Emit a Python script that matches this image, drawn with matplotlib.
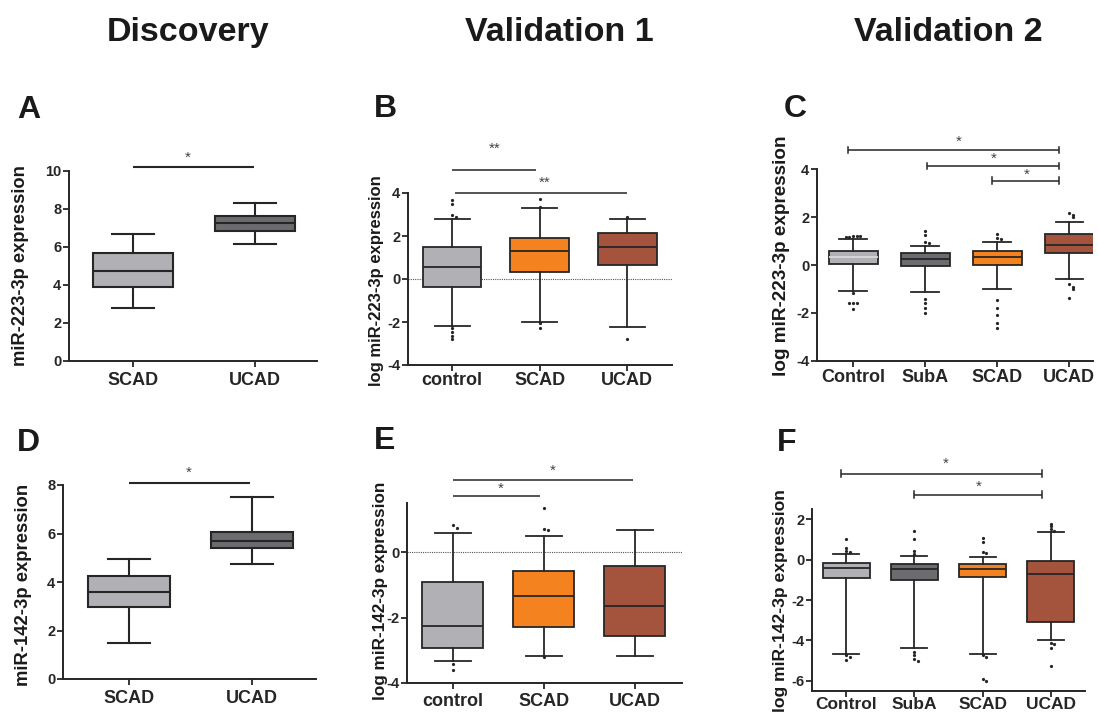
"""miR-223-3p / miR-142-3p expression box plots, three cohorts."""
import matplotlib.pyplot as plt
import numpy as np

plt.rcParams['font.family'] = ['Liberation Sans', 'DejaVu Sans']
plt.rcParams['font.weight'] = 'bold'
plt.rcParams['axes.unicode_minus'] = False

W, H = 1098, 716
INK = '#262626'
LIGHT = '#b0b0b5'
DARK = '#6c6c70'
ORANGE = '#f4821f'
BROWN = '#a4533d'

# ---- panel A: discovery, miR-223-3p
a_cats = ['SCAD', 'UCAD']
a_lo = [2.81, 6.14]
a_q1 = [3.88, 6.86]
a_med = [4.74, 7.25]
a_q3 = [5.70, 7.63]
a_hi = [6.68, 8.33]

# ---- panel B: validation 1, miR-223-3p
b_cats = ['control', 'SCAD', 'UCAD']
b_lo = [-2.17, -1.99, -2.22]
b_q1 = [-0.36, 0.34, 0.65]
b_med = [0.57, 1.32, 1.50]
b_q3 = [1.50, 1.89, 2.13]
b_hi = [2.78, 3.29, 2.78]
b_out = [[3.67, 3.49, 3.0, 2.9, -2.3, -2.48, -2.65, -2.8],
         [3.72, 3.36, -2.05, -2.3],
         [2.9, -2.8]]

# ---- panel C: validation 2, miR-223-3p
c_cats = ['Control', 'SubA', 'SCAD', 'UCAD']
c_lo = [-1.07, -1.11, -1.01, -0.60]
c_q1 = [0.04, -0.04, 0.0, 0.49]
c_med = [0.32, 0.27, 0.35, 0.83]
c_q3 = [0.60, 0.49, 0.60, 1.29]
c_hi = [1.07, 0.80, 0.97, 1.80]
c_out = [[1.21, 1.19, 1.17, 1.2, 1.16, -1.18, -1.57, -1.57, -1.6, -1.85],
         [1.43, 1.25, 0.95, 0.9, -1.42, -1.57, -1.8, -1.99],
         [1.28, 1.11, 1.07, -1.46, -1.8, -2.08, -2.43, -2.64],
         [2.15, 2.1, 1.99, -0.79, -0.9, -1.01, -1.39]]

# ---- panel D: discovery, miR-142-3p
d_cats = ['SCAD', 'UCAD']
d_lo = [1.47, 4.75]
d_q1 = [2.96, 5.40]
d_med = [3.60, 5.71]
d_q3 = [4.26, 6.08]
d_hi = [4.93, 7.52]

# ---- panel E: validation 1, miR-142-3p
e_cats = ['control', 'SCAD', 'UCAD']
e_lo = [-3.33, -3.18, -3.17]
e_q1 = [-2.92, -2.30, -2.56]
e_med = [-2.26, -1.34, -1.65]
e_q3 = [-0.91, -0.58, -0.41]
e_hi = [0.59, 0.48, 0.68]
e_out = [[0.82, 0.75, -3.43, -3.61],
         [1.35, 0.71, 0.68, -3.2],
         []]

# ---- panel F: validation 2, miR-142-3p
f_cats = ['Control', 'SubA', 'SCAD', 'UCAD']
f_lo = [-4.66, -4.35, -4.69, -3.99]
f_q1 = [-0.90, -0.99, -0.86, -3.10]
f_med = [-0.41, -0.48, -0.45, -0.70]
f_q3 = [-0.15, -0.22, -0.22, -0.06]
f_hi = [0.28, 0.17, 0.14, 1.36]
f_out = [[1.0, 0.57, 0.4, 0.35, -4.74, -4.82, -4.99],
         [1.39, 1.0, 0.43, 0.28, -4.56, -4.74, -4.9, -5.0],
         [1.05, 0.86, 0.35, 0.3, -4.74, -4.8, -5.93, -6.03],
         [1.77, 1.65, 1.5, 1.42, -4.12, -4.2, -4.39, -5.26]]


def px_axes(fig, left, top, right, bottom):
    return fig.add_axes([left / W, 1 - bottom / H, (right - left) / W, (bottom - top) / H])


def px_text(fig, x, y, s, **kw):
    fig.text(x / W, 1 - y / H, s, **kw)


def spread(vals, step):
    """Small side-by-side offsets for fliers with nearly equal values."""
    offs, seen = [], []
    for v in vals:
        k = sum(1 for p in seen if abs(p - v) < 0.12)
        seen.append(v)
        offs.append(0.0 if k == 0 else step * ((k + 1) // 2) * (1 if k % 2 else -1))
    return np.array(offs)


def draw_panel(ax, cats, lo, q1, med, q3, hi, colors, width, capw, lw,
               outliers=None, ylim=(0, 1), yticks=(), xlim=None, lab_pad=3,
               lab_size=13, med_colors=None):
    pos = np.arange(1, len(cats) + 1)
    stats = [dict(whislo=lo[i], q1=q1[i], med=med[i], q3=q3[i], whishi=hi[i], fliers=[])
             for i in range(len(cats))]
    bp = ax.bxp(stats, positions=pos, widths=width, capwidths=capw, patch_artist=True,
                showfliers=False,
                boxprops=dict(edgecolor=INK, linewidth=lw),
                whiskerprops=dict(color=INK, linewidth=lw),
                capprops=dict(color=INK, linewidth=lw),
                medianprops=dict(color=INK, linewidth=lw))
    for patch, c in zip(bp['boxes'], colors):
        patch.set_facecolor(c)
    if med_colors:
        for line, c in zip(bp['medians'], med_colors):
            line.set_color(c)
    if outliers:
        for p, pts in zip(pos, outliers):
            if pts:
                ax.plot(p + spread(pts, 0.05), pts, 'o', ms=1.3, color=INK, ls='none',
                        clip_on=False)
    ax.set_xlim(*xlim)
    ax.set_ylim(*ylim)
    ax.set_yticks(yticks)
    ax.set_xticks(pos, cats)
    for s in ('top', 'right'):
        ax.spines[s].set_visible(False)
    for s in ('left', 'bottom'):
        ax.spines[s].set_linewidth(1.4)
        ax.spines[s].set_color(INK)
    ax.tick_params(axis='both', direction='out', length=4, width=1.3, color=INK)
    ax.tick_params(axis='y', labelsize=10.5, labelcolor=INK, pad=1.5)
    ax.tick_params(axis='x', labelsize=lab_size, labelcolor=INK, pad=lab_pad)
    ax.set_facecolor('none')


def sig(ax, x0, x1, y, sx, sy, text, lw=1.1, cap=0.0):
    ax.plot([x0, x1], [y, y], color=INK, lw=lw, clip_on=False, solid_capstyle='butt')
    if cap:
        for x in (x0, x1):
            ax.plot([x, x], [y - cap, y + cap], color=INK, lw=lw, clip_on=False)
    ax.text(sx, sy, text, ha='center', va='center', fontsize=11, fontweight='normal',
            color='#444444', clip_on=False)


fig = plt.figure(figsize=(W / 100, H / 100), dpi=100)

# column titles
for x, t in [(188, 'Discovery'), (559, 'Validation 1'), (948, 'Validation 2')]:
    px_text(fig, x, 41, t, ha='center', va='baseline', fontsize=24.5, color='#1a1a1a')

# panel letters
for x, y, t in [(17, 118, 'A'), (374, 117, 'B'), (784, 117, 'C'),
                (17, 451, 'D'), (374, 449, 'E'), (777, 451, 'F')]:
    px_text(fig, x, y, t, ha='left', va='baseline', fontsize=23, color='#1a1a1a')

# y labels
for x, y, t, fs in [(21, 266, 'miR-223-3p expression', 13.2),
                    (377, 281, 'log miR-223-3p expression', 12),
                    (781, 256, 'log miR-223-3p expression', 13.6),
                    (24, 585, 'miR-142-3p expression', 13.3),
                    (380, 591, 'log miR-142-3p expression', 12.3),
                    (780, 601, 'log miR-142-3p expression', 12.6)]:
    px_text(fig, x, y, t, ha='center', va='center', rotation=90, fontsize=fs, color='#1a1a1a')

# A
ax = px_axes(fig, 69, 171, 317, 361)
draw_panel(ax, a_cats, a_lo, a_q1, a_med, a_q3, a_hi, [LIGHT, DARK], 0.66, 0.35, 1.5,
           ylim=(0, 10), yticks=range(0, 11, 2), xlim=(0.475, 2.51), lab_pad=4)
sig(ax, 1.0, 1.99, 10.2, 1.45, 10.68, '*', lw=1.5)

# B
ax = px_axes(fig, 408, 193, 672, 365)
ax.axhline(0, ls=(0, (1, 1)), color='#555555', lw=0.8, zorder=0)
draw_panel(ax, b_cats, b_lo, b_q1, b_med, b_q3, b_hi, [LIGHT, ORANGE, BROWN], 0.67, 0.4, 1.3,
           outliers=b_out, ylim=(-4, 4), yticks=range(-4, 5, 2), xlim=(0.497, 3.51), lab_pad=1)
sig(ax, 1.0, 1.96, 5.07, 1.49, 6.05, '**')
sig(ax, 1.03, 3.0, 4.0, 2.06, 4.47, '**')

# C
ax = px_axes(fig, 817, 169, 1093, 361)
draw_panel(ax, c_cats, c_lo, c_q1, c_med, c_q3, c_hi, [LIGHT, DARK, ORANGE, BROWN], 0.68, 0.38,
           1.3, outliers=c_out, ylim=(-4, 4), yticks=range(-4, 5, 2), xlim=(0.5, 4.33),
           lab_pad=2, med_colors=['#d8d8d8', INK, INK, INK])
sig(ax, 0.93, 3.86, 4.79, 2.46, 5.14, '*', cap=0.14)
sig(ax, 2.02, 3.86, 4.12, 2.95, 4.44, '*', cap=0.14)
sig(ax, 2.93, 3.86, 3.51, 3.41, 3.75, '*', cap=0.14)

# D
ax = px_axes(fig, 63, 485, 316, 679)
draw_panel(ax, d_cats, d_lo, d_q1, d_med, d_q3, d_hi, [LIGHT, DARK], 0.67, 0.34, 1.5,
           ylim=(0, 8), yticks=range(0, 9, 2), xlim=(0.46, 2.52), lab_pad=4)
sig(ax, 1.0, 1.98, 8.08, 1.48, 8.49, '*', lw=1.5)

# E
ax = px_axes(fig, 407, 503, 682, 683)
ax.axhline(0, ls=(0, (1, 1)), color='#555555', lw=0.8, zorder=0)
draw_panel(ax, e_cats, e_lo, e_q1, e_med, e_q3, e_hi, [LIGHT, ORANGE, BROWN], 0.67, 0.4, 1.3,
           outliers=e_out, ylim=(-4, 1.5), yticks=[-4, -2, 0], xlim=(0.495, 3.52), lab_pad=3)
sig(ax, 1.0, 2.98, 2.2, 2.1, 2.47, '*')
sig(ax, 1.0, 1.96, 1.71, 1.53, 1.92, '*')

# F
ax = px_axes(fig, 812, 509, 1085, 691)
draw_panel(ax, f_cats, f_lo, f_q1, f_med, f_q3, f_hi, [LIGHT, DARK, ORANGE, BROWN], 0.69, 0.38,
           1.3, outliers=f_out, ylim=(-6.5, 2.5), yticks=range(-6, 3, 2), xlim=(0.5, 4.5),
           lab_pad=0.5, lab_size=12.5)
sig(ax, 0.93, 3.87, 4.25, 2.46, 4.74, '*', cap=0.17)
sig(ax, 2.0, 3.87, 3.21, 2.95, 3.6, '*', cap=0.17)

fig.savefig('out.png', dpi=100)
plt.close(fig)
